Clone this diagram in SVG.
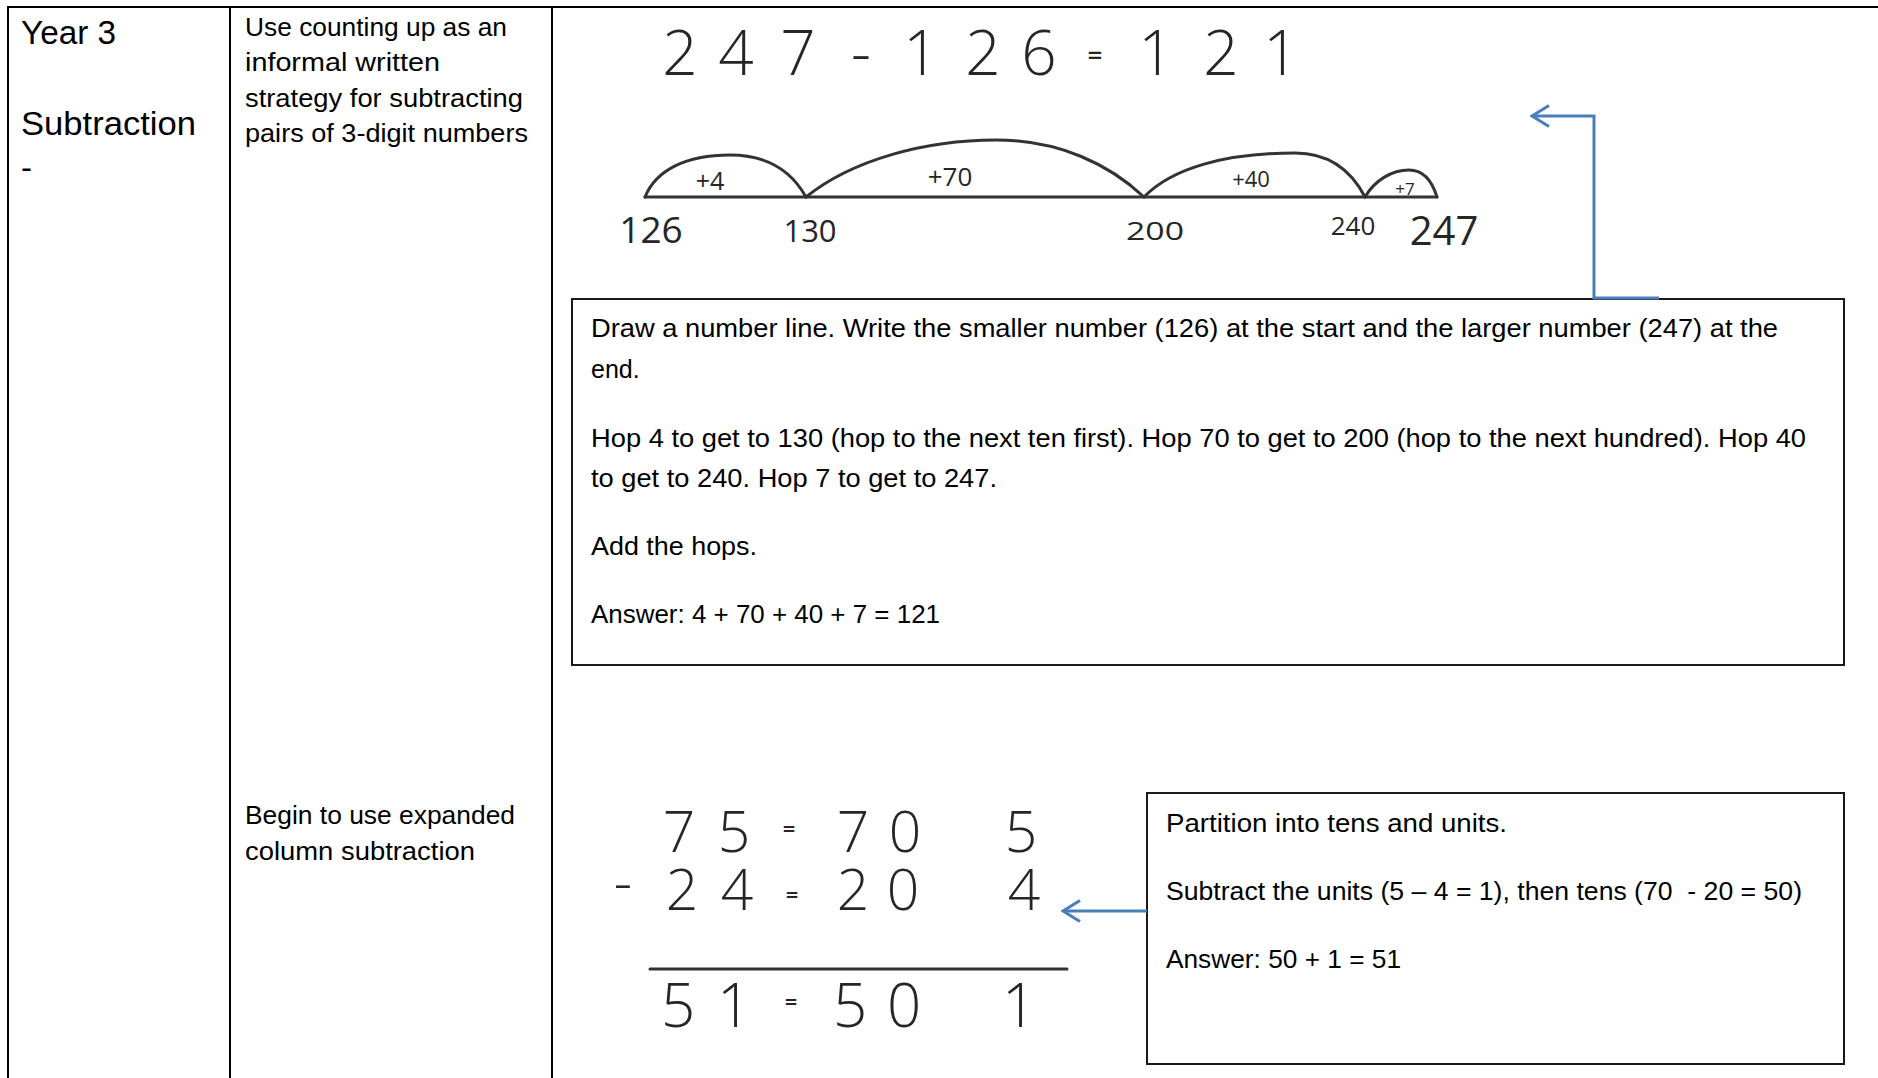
<svg xmlns="http://www.w3.org/2000/svg" width="1878" height="1078" viewBox="0 0 1878 1078">
<defs>
<style>
.grid{stroke:#000;stroke-width:2;fill:none}
.box{stroke:#1a1a1a;stroke-width:2;fill:#fff}
.pt{font-family:"Liberation Sans",Arial,sans-serif;font-size:25px;fill:#000}
.big{font-family:"Liberation Sans",Arial,sans-serif;font-size:33px;fill:#000}
.hw{font-family:"Open Sans",Lato,"DejaVu Sans",sans-serif;font-weight:300;fill:#262626;text-anchor:middle}
.lb{font-family:"Open Sans",Lato,"DejaVu Sans",sans-serif;font-weight:400;fill:#262626;text-anchor:middle}
.eq{font-family:"Open Sans",Lato,"DejaVu Sans",sans-serif;font-weight:600;fill:#262626;text-anchor:middle}
.ink{stroke:#333;stroke-width:3;fill:none;stroke-linecap:round}
.conn{stroke:#4a7ebb;stroke-width:3;fill:none}
</style>
<marker id="arr" markerUnits="userSpaceOnUse" viewBox="0 0 20 24" refX="18" refY="12" markerWidth="20" markerHeight="24" orient="auto">
<path d="M1,1.5 L18,12 L1,22.5" fill="none" stroke="#4a7ebb" stroke-width="3"/>
</marker>
</defs>
<rect width="1878" height="1078" fill="#fff"/>

<g id="table">
<path class="grid" d="M7,7 H1878 M8,7 V1078 M230,7 V1078 M552,7 V1078"/>
</g>

<g id="year-label">
<text class="big" x="21" y="44" textLength="95" lengthAdjust="spacingAndGlyphs">Year 3</text>
<text class="big" x="21" y="135" textLength="175" lengthAdjust="spacingAndGlyphs">Subtraction</text>
<text class="big" x="21" y="179">-</text>
</g>

<g id="objective-1">
<text class="pt" x="245" y="36" textLength="262" lengthAdjust="spacingAndGlyphs">Use counting up as an</text>
<text class="pt" x="245" y="71" textLength="195" lengthAdjust="spacingAndGlyphs">informal written</text>
<text class="pt" x="245" y="107" textLength="278" lengthAdjust="spacingAndGlyphs">strategy for subtracting</text>
<text class="pt" x="245" y="142" textLength="283" lengthAdjust="spacingAndGlyphs">pairs of 3-digit numbers</text>
</g>

<g id="objective-2">
<text class="pt" x="245" y="824" textLength="270" lengthAdjust="spacingAndGlyphs">Begin to use expanded</text>
<text class="pt" x="245" y="860" textLength="230" lengthAdjust="spacingAndGlyphs">column subtraction</text>
</g>

<g id="equation">
<text class="hw" font-size="62" y="75"><tspan x="680">2</tspan><tspan x="736">4</tspan><tspan x="798">7</tspan></text>
<text class="hw" font-size="62" x="861" y="75">-</text>
<text class="hw" font-size="62" y="75"><tspan x="921">1</tspan><tspan x="983">2</tspan><tspan x="1039">6</tspan></text>
<text class="eq" font-size="26" x="1095" y="64">=</text>
<text class="hw" font-size="62" y="75"><tspan x="1156">1</tspan><tspan x="1221">2</tspan><tspan x="1281">1</tspan></text>
</g>

<g id="number-line">
<path class="ink" d="M645,197 H1437"/>
<path class="ink" d="M645,197 C656,170 686,155 730,155 C768,155 792,172 806,197"/>
<path class="ink" d="M806,197 C852,160 925,140 996,140 C1060,140 1110,165 1144,197"/>
<path class="ink" d="M1144,197 C1172,168 1226,153 1295,153 C1330,153 1352,172 1365,197"/>
<path class="ink" d="M1365,197 C1375,180 1392,170 1409,170 C1426,170 1433,184 1437,197"/>
<text class="lb" font-size="25" x="710" y="190">+4</text>
<text class="lb" font-size="26" x="950" y="186">+70</text>
<text class="lb" font-size="22" x="1251" y="187">+40</text>
<text class="lb" font-size="17" x="1405" y="195">+7</text>
<text class="lb" font-size="37" x="651" y="243">126</text>
<text class="lb" font-size="31" x="810" y="242">130</text>
<text class="lb" font-size="26" x="1155" y="240" textLength="58" lengthAdjust="spacingAndGlyphs">200</text>
<text class="lb" font-size="26" x="1353" y="235">240</text>
<text class="lb" font-size="40" x="1444" y="245">247</text>
</g>

<g id="explain-1">
<rect class="box" x="572" y="299" width="1272" height="366"/>
<text class="pt" x="591" y="337" textLength="1187" lengthAdjust="spacingAndGlyphs">Draw a number line. Write the smaller number (126) at the start and the larger number (247) at the</text>
<text class="pt" x="591" y="378">end.</text>
<text class="pt" x="591" y="447" textLength="1215" lengthAdjust="spacingAndGlyphs">Hop 4 to get to 130 (hop to the next ten first). Hop 70 to get to 200 (hop to the next hundred). Hop 40</text>
<text class="pt" x="591" y="487" textLength="406" lengthAdjust="spacingAndGlyphs">to get to 240. Hop 7 to get to 247.</text>
<text class="pt" x="591" y="555" textLength="166" lengthAdjust="spacingAndGlyphs">Add the hops.</text>
<text class="pt" x="591" y="623" textLength="349" lengthAdjust="spacingAndGlyphs">Answer: 4 + 70 + 40 + 7 = 121</text>
</g>

<g id="column-sum">
<text class="hw" font-size="57" y="852"><tspan x="679">7</tspan><tspan x="734">5</tspan></text>
<text class="eq" font-size="22" x="789" y="837">=</text>
<text class="hw" font-size="57" y="852"><tspan x="853">7</tspan><tspan x="905">0</tspan></text>
<text class="hw" font-size="57" x="1021" y="852">5</text>
<text class="hw" font-size="57" x="623" y="902">-</text>
<text class="hw" font-size="57" y="910"><tspan x="682">2</tspan><tspan x="737">4</tspan></text>
<text class="eq" font-size="22" x="792" y="903">=</text>
<text class="hw" font-size="57" y="910"><tspan x="853">2</tspan><tspan x="903">0</tspan></text>
<text class="hw" font-size="57" x="1024" y="910">4</text>
<path class="ink" d="M650,969 H1067" stroke-width="2.5"/>
<text class="hw" font-size="60" y="1027"><tspan x="678">5</tspan><tspan x="734">1</tspan></text>
<text class="eq" font-size="22" x="791" y="1010">=</text>
<text class="hw" font-size="60" y="1027"><tspan x="850">5</tspan><tspan x="904">0</tspan></text>
<text class="hw" font-size="60" x="1019" y="1027">1</text>
</g>

<g id="explain-2">
<rect class="box" x="1147" y="793" width="697" height="271"/>
<text class="pt" x="1166" y="832" textLength="341" lengthAdjust="spacingAndGlyphs">Partition into tens and units.</text>
<text class="pt" x="1166" y="900" textLength="636" lengthAdjust="spacingAndGlyphs" style="white-space:pre">Subtract the units (5 – 4 = 1), then tens (70  - 20 = 50)</text>
<text class="pt" x="1166" y="968" textLength="235" lengthAdjust="spacingAndGlyphs">Answer: 50 + 1 = 51</text>
</g>

<g id="connectors">
<path class="conn" d="M1659,298 H1594 V116 H1532" marker-end="url(#arr)"/>
<path class="conn" d="M1147,911 H1063" marker-end="url(#arr)"/>
</g>
</svg>
